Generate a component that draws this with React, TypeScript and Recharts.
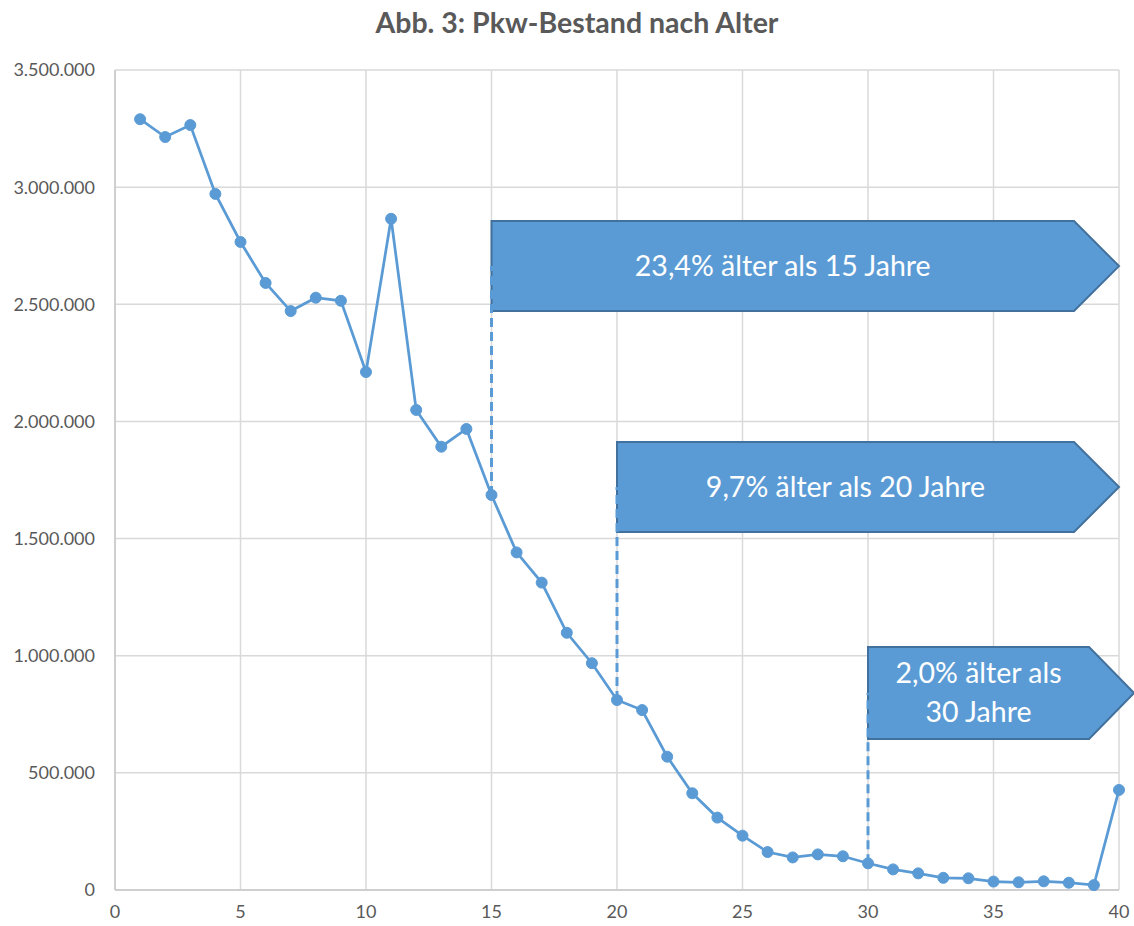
import React from 'react';
import {
  LineChart,
  Line,
  XAxis,
  YAxis,
  CartesianGrid,
  ReferenceArea,
  ReferenceLine,
} from 'recharts';

const ages = [
  1, 2, 3, 4, 5, 6, 7, 8, 9, 10, 11, 12, 13, 14, 15, 16, 17, 18, 19, 20,
  21, 22, 23, 24, 25, 26, 27, 28, 29, 30, 31, 32, 33, 34, 35, 36, 37, 38, 39, 40,
];

const bestand = [
  3290000, 3214000, 3265000, 2971000, 2766000, 2591000, 2471000, 2528000, 2515000, 2211000,
  2865000, 2049000, 1892000, 1968000, 1686000, 1441000, 1312000, 1098000, 968000, 811000,
  768000, 569000, 413000, 309000, 232000, 162000, 139000, 152000, 144000, 114000,
  88000, 71000, 52000, 50000, 36000, 33000, 37000, 31000, 21000, 427000,
];

const xTicks = [0, 5, 10, 15, 20, 25, 30, 35, 40];
const yTicks = [0, 500000, 1000000, 1500000, 2000000, 2500000, 3000000, 3500000];

const title = 'Abb. 3: Pkw-Bestand nach Alter';

const annotationLabels = [
  ['23,4% älter als 15 Jahre'],
  ['9,7% älter als 20 Jahre'],
  ['2,0% älter als', '30 Jahre'],
];
const annotationFromAge = [15, 20, 30];
const annotationTipAge = [40, 40, 40.6];
const annotationBottom = [2471000, 1528000, 645000];
const annotationTop = [2855000, 1912000, 1037000];

const data = ages.map((a, i) => ({ age: a, value: bestand[i] }));

const fmt = (v: number) => String(v).replace(/\B(?=(\d{3})+(?!\d))/g, '.');

const BLUE = '#5b9bd5';
const DARK = '#41719c';
const GREY = '#595959';
const FONT = 'Lato, "Open Sans", sans-serif';
const HEAD = 45;

const makeArrow = (lines: string[]) => (props: any) => {
  const { x, y, width, height } = props;
  if (x == null || y == null) return null;
  const neck = x + width - HEAD;
  const pts = [
    [x, y],
    [neck, y],
    [x + width, y + height / 2],
    [neck, y + height],
    [x, y + height],
  ]
    .map((p) => p.join(','))
    .join(' ');
  const cx = (x + neck) / 2;
  const cy = y + height / 2;
  const lh = 39;
  const start = cy - ((lines.length - 1) * lh) / 2;
  return (
    <g>
      <polygon points={pts} fill={BLUE} stroke={DARK} strokeWidth={2} />
      {lines.map((t, i) => (
        <text
          key={i}
          x={cx}
          y={start + i * lh}
          dy="0.35em"
          textAnchor="middle"
          fill="#ffffff"
          fontFamily={FONT}
          fontSize={28.5}
        >
          {t}
        </text>
      ))}
    </g>
  );
};

export default function App() {
  return (
    <div style={{ position: 'absolute', left: 0, top: 0, width: 1134, height: 926, background: '#fff' }}>
      <div
        style={{
          position: 'absolute',
          left: 0,
          top: 6,
          width: 1154,
          textAlign: 'center',
          fontFamily: FONT,
          fontWeight: 700,
          fontSize: 28.5,
          lineHeight: '32px',
          color: GREY,
        }}
      >
        {title}
      </div>
      <LineChart
        width={1134}
        height={926}
        data={data}
        margin={{ top: 70, right: 15, bottom: 0, left: 15 }}
      >
        <CartesianGrid stroke="#d9d9d9" strokeWidth={1.5} />
        <XAxis
          dataKey="age"
          type="number"
          domain={[0, 40]}
          ticks={xTicks}
          height={36}
          axisLine={{ stroke: '#c8c8c8', strokeWidth: 1.5 }}
          tickLine={false}
          tickSize={0}
          tickMargin={15}
          tick={{ fill: GREY, fontSize: 18, fontFamily: FONT }}
          interval={0}
        />
        <YAxis
          type="number"
          domain={[0, 3500000]}
          ticks={yTicks}
          width={100}
          axisLine={{ stroke: '#c8c8c8', strokeWidth: 1.5 }}
          tickLine={false}
          tickSize={0}
          tickMargin={20}
          tickFormatter={fmt}
          tick={{ fill: GREY, fontSize: 18, fontFamily: FONT }}
          interval={0}
        />
        {annotationFromAge.map((a, i) => (
          <ReferenceLine
            key={'l' + i}
            segment={[
              { x: a, y: bestand[ages.indexOf(a)] },
              { x: a, y: (annotationBottom[i] + annotationTop[i]) / 2 },
            ]}
            stroke={BLUE}
            strokeWidth={3}
            strokeDasharray="9 5"
            ifOverflow="visible"
          />
        ))}
        {annotationFromAge.map((a, i) => (
          <ReferenceArea
            key={'a' + i}
            x1={a}
            x2={annotationTipAge[i]}
            y1={annotationBottom[i]}
            y2={annotationTop[i]}
            ifOverflow="visible"
            shape={makeArrow(annotationLabels[i])}
          />
        ))}
        <Line
          type="linear"
          dataKey="value"
          stroke={BLUE}
          strokeWidth={2.75}
          dot={{ r: 5.5, fill: BLUE, stroke: BLUE, strokeWidth: 1 }}
          activeDot={false}
          isAnimationActive={false}
        />
      </LineChart>
    </div>
  );
}
